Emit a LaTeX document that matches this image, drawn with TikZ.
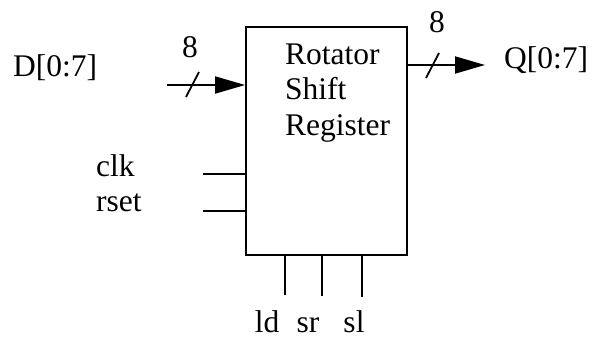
\documentclass[tikz,border=0pt]{standalone}
\usepackage{fontspec}
\setmainfont{Liberation Serif}
\usetikzlibrary{arrows.meta}

\begin{document}
\begin{tikzpicture}[x=1pt, y=-1pt,
        every node/.style={font=\fontsize{31.5}{35.5}\selectfont, inner sep=0pt},
        regbox/.style={rectangle, draw, line width=1.8pt,
            minimum width=161pt, minimum height=228pt},
        wire/.style={line width=1.8pt},
        bus/.style={wire, -{Triangle[length=30pt, width=17pt]}},
        lbl/.style={anchor=base}
      ]
      \useasboundingbox (0,0) rectangle (594,337);
      % register block
      \node[regbox] (reg) at (326.5, 141) {};
      \node[anchor=base west, align=left] (title) at (285, 135)
      {Rotator\\Shift\\Register};
      % data in
      \node[anchor=base west] (dname) at (13, 77) {D[0:7]};
      \coordinate (din) at (167, 85);
      \draw[bus] (din) -- (din -| reg.west);
      \coordinate (dslash) at (192.5, 84.5);
      \draw[wire] ([shift={(-6.5,12.5)}]dslash) -- ([shift={(6.5,-12.5)}]dslash);
      \node[lbl] (dwidth) at (190, 58) {8};
      % data out
      \coordinate (qout) at (485, 65);
      \draw[bus] (qout -| reg.east) -- (qout);
      \coordinate (qslash) at (432.5, 65.5);
      \draw[wire] ([shift={(-6.5,12.5)}]qslash) -- ([shift={(6.5,-12.5)}]qslash);
      \node[lbl] (qwidth) at (437, 33) {8};
      \node[anchor=base west] (qname) at (504, 69) {Q[0:7]};
      % control inputs
      \node[anchor=base west] (clk) at (96, 176) {clk};
      \node[anchor=base west] (rset) at (96, 211.5) {rset};
      \coordinate (clkin) at (203, 174);
      \coordinate (rsetin) at (203, 211);
      \draw[wire] (clkin) -- (clkin -| reg.west);
      \draw[wire] (rsetin) -- (rsetin -| reg.west);
      % mode inputs
      \coordinate (ldin) at (285, 295);
      \coordinate (srin) at (322, 296);
      \coordinate (slin) at (362, 297);
      \draw[wire] (ldin |- reg.south) -- (ldin);
      \draw[wire] (srin |- reg.south) -- (srin);
      \draw[wire] (slin |- reg.south) -- (slin);
      \node[lbl] (ld) at (267, 332) {ld};
      \node[lbl] (sr) at (308, 332) {sr};
      \node[lbl] (sl) at (354, 332) {sl};
    \end{tikzpicture}
\end{document}
